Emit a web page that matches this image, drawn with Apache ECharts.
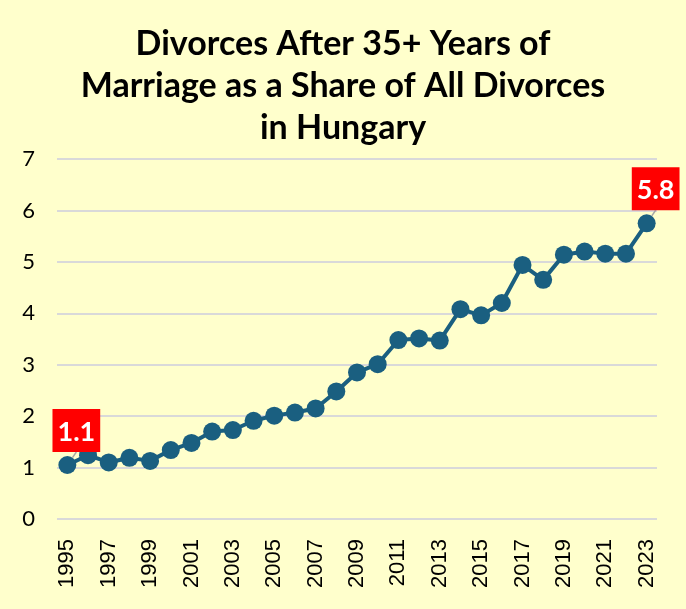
<!DOCTYPE html>
<html>
<head>
    <meta charset="utf-8">
    <script src="https://cdn.jsdelivr.net/npm/echarts@6/dist/echarts.min.js"></script>
</head>
<body style="margin:0;background:#FFFFCC;">
<div id="main" style="width: 686px;height:609px;"></div>
<script type="text/javascript">
    // 数据
    var years = ['1995', '1996', '1997', '1998', '1999', '2000', '2001', '2002', '2003', '2004',
        '2005', '2006', '2007', '2008', '2009', '2010', '2011', '2012', '2013', '2014',
        '2015', '2016', '2017', '2018', '2019', '2020', '2021', '2022', '2023'];
    var shares = [1.05, 1.24, 1.10, 1.19, 1.13, 1.34, 1.48, 1.70, 1.73, 1.91,
        2.01, 2.07, 2.15, 2.48, 2.85, 3.01, 3.48, 3.51, 3.47, 4.08,
        3.96, 4.20, 4.94, 4.65, 5.14, 5.20, 5.16, 5.16, 5.75];
    var labelled = ['1995', '2023'];

    var myChart = echarts.init(document.getElementById('main'));

    var lineColor = '#1A5F80';

    var option = {
        backgroundColor: '#FFFFCC',
        title: {
            text: 'Divorces After 35+ Years of\nMarriage as a Share of All Divorces\nin Hungary',
            left: 'center',
            top: 18,
            textStyle: {
                fontFamily: 'Lato',
                fontWeight: 'bold',
                fontSize: 34,
                lineHeight: 42,
                color: '#000'
            }
        },
        grid: {
            left: 57,
            right: 29,
            top: 159,
            bottom: 90
        },
        xAxis: {
            type: 'category',
            boundaryGap: true,
            data: years,
            axisLine: {show: false},
            axisTick: {show: false},
            axisLabel: {
                interval: 1,
                rotate: 90,
                margin: 20,
                fontFamily: 'Liberation Sans',
                fontSize: 22,
                color: '#000'
            }
        },
        yAxis: {
            type: 'value',
            min: 0,
            max: 7,
            interval: 1,
            axisLabel: {
                margin: 22,
                fontFamily: 'Lato',
                fontSize: 22,
                color: '#000'
            },
            splitLine: {
                lineStyle: {color: '#D9D9D9', width: 2}
            }
        },
        series: [{
            type: 'line',
            data: shares.map(function (v, i) {
                var item = {value: v};
                if (labelled.indexOf(years[i]) >= 0) {
                    item.label = {
                        show: true,
                        position: 'top',
                        distance: 0,
                        formatter: function (p) { return p.value.toFixed(1); },
                        backgroundColor: '#FF0000',
                        color: '#fff',
                        fontFamily: 'Lato',
                        fontWeight: 'bold',
                        fontSize: 27,
                        padding: [10, 5, 6, 5]
                    };
                    item.labelLine = {
                        show: true,
                        lineStyle: {color: '#A6A6A6', width: 1.5}
                    };
                }
                return item;
            }),
            labelLayout: {dx: 9, dy: -4},
            symbol: 'circle',
            symbolSize: 18,
            showAllSymbol: true,
            lineStyle: {color: lineColor, width: 4},
            itemStyle: {color: lineColor},
            z: 3
        }]
    };
    myChart.setOption(option);
</script>
</body>
</html>
